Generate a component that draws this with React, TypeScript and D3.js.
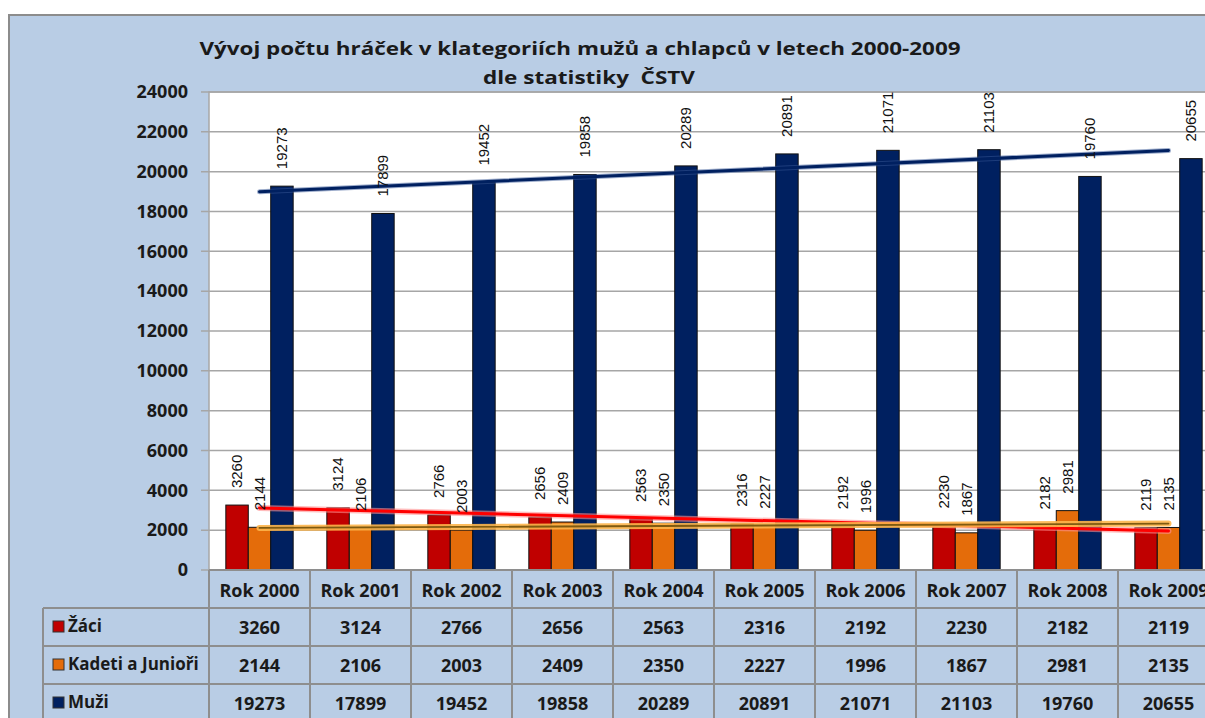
import React from 'react';
import * as d3 from 'd3';

// data
const categories = ['Rok 2000', 'Rok 2001', 'Rok 2002', 'Rok 2003', 'Rok 2004', 'Rok 2005', 'Rok 2006', 'Rok 2007', 'Rok 2008', 'Rok 2009'];
const seriesNames = ['Žáci', 'Kadeti a Junioři', 'Muži'];
const zaci = [3260, 3124, 2766, 2656, 2563, 2316, 2192, 2230, 2182, 2119];
const kadeti = [2144, 2106, 2003, 2409, 2350, 2227, 1996, 1867, 2981, 2135];
const muzi = [19273, 17899, 19452, 19858, 20289, 20891, 21071, 21103, 19760, 20655];
const yTicks = [0, 2000, 4000, 6000, 8000, 10000, 12000, 14000, 16000, 18000, 20000, 22000, 24000];
const titleLines = ['Vývoj počtu hráček v klategoriích mužů a chlapců v letech 2000-2009', 'dle statistiky  ČSTV'];

const seriesValues = [zaci, kadeti, muzi];
const seriesColors = ['#C00000', '#E46C0A', '#002060'];

const W = 1205;
const H = 718;
const plotLeft = 209;
const plotTop = 92;
const plotBottom = 570;
const bandW = 101;
const rowH = 38;
const tableLeft = 43;
const gridColor = '#8E8E8E';
const font = "'Open Sans', 'Liberation Sans', sans-serif";

// simple least squares fit over category index
function linearFit(vals: number[]) {
  const xs = vals.map((_, i) => i);
  const mx = d3.mean(xs) as number;
  const my = d3.mean(vals) as number;
  const sxy = d3.sum(xs, (x, i) => (x - mx) * (vals[i] - my));
  const sxx = d3.sum(xs, x => (x - mx) * (x - mx));
  const slope = sxy / sxx;
  return (i: number) => my + slope * (i - mx);
}

const App = () => {
  const x = d3.scaleBand<string>().domain(categories).range([plotLeft, plotLeft + bandW * categories.length]).padding(0);
  const xs = d3.scaleBand<string>().domain(seriesNames).range([0, x.bandwidth()]).paddingInner(0).paddingOuter(0.75);
  const y = d3.scaleLinear().domain([0, 24000]).range([plotBottom, plotTop]);
  const plotRight = plotLeft + bandW * categories.length;

  const trend = seriesValues.map(vals => {
    const f = linearFit(vals);
    const first = 0;
    const last = vals.length - 1;
    return {
      x1: (x(categories[first]) as number) + x.bandwidth() / 2,
      x2: (x(categories[last]) as number) + x.bandwidth() / 2,
      y1: y(f(first)),
      y2: y(f(last)),
    };
  });

  const rowTop = (r: number) => plotBottom + rowH * (r + 1);

  return (
    <div style={{ position: 'fixed', left: 0, top: 0, width: W, height: H, overflow: 'hidden' }}>
      <svg width={W} height={H} style={{ display: 'block', background: '#fff' }}>
        {/* chart frame, runs past the right and bottom edges */}
        <rect x={9} y={15} width={W + 200} height={H + 200} fill="#B9CDE5" stroke="#8C8C8C" strokeWidth={2} />

        {/* title */}
        <text x={580} y={55} textAnchor="middle" fontFamily={font} fontWeight="bold" fontSize={18} fill="#1a1a1a"
          textLength={761} lengthAdjust="spacingAndGlyphs">{titleLines[0]}</text>
        <text x={589} y={84} textAnchor="middle" fontFamily={font} fontWeight="bold" fontSize={18} fill="#1a1a1a"
          textLength={212} lengthAdjust="spacingAndGlyphs" style={{ whiteSpace: 'pre' }}>{titleLines[1]}</text>

        {/* plot area */}
        <rect x={plotLeft} y={plotTop} width={plotRight - plotLeft} height={plotBottom - plotTop} fill="#fff" stroke="#A6A6A6" strokeWidth={1.5} />

        {yTicks.map(t => (
          <g key={t}>
            <line x1={201} x2={plotRight} y1={y(t)} y2={y(t)} stroke="#A6A6A6" strokeWidth={1.5} />
            <text x={188} y={y(t)} dy="0.35em" textAnchor="end" fontFamily={font} fontWeight="bold" fontSize={18} fill="#1a1a1a">{t}</text>
          </g>
        ))}

        {/* bars */}
        {seriesValues.map((vals, s) => vals.map((v, i) => (
          <rect key={`${s}-${i}`}
            x={(x(categories[i]) as number) + (xs(seriesNames[s]) as number)}
            y={y(v)}
            width={xs.bandwidth()}
            height={plotBottom - y(v)}
            fill={seriesColors[s]} stroke="#111" strokeWidth={1} />
        )))}

        {/* trend lines */}
        <line {...trend[0]} stroke="#FF9090" strokeWidth={6} strokeOpacity={0.6} strokeLinecap="round" />
        <line {...trend[0]} stroke="#FF0000" strokeWidth={3} strokeLinecap="round" />
        <line {...trend[1]} stroke="#FDB54A" strokeWidth={6} strokeOpacity={0.9} strokeLinecap="round" />
        <line {...trend[1]} stroke="#7F5A10" strokeWidth={1.8} strokeLinecap="round" />
        <line {...trend[2]} stroke="#3A5A98" strokeWidth={5} strokeOpacity={0.5} strokeLinecap="round" />
        <line {...trend[2]} stroke="#002060" strokeWidth={3} strokeLinecap="round" />

        {/* data labels */}
        {seriesValues.map((vals, s) => vals.map((v, i) => {
          const cx = (x(categories[i]) as number) + (xs(seriesNames[s]) as number) + xs.bandwidth() / 2;
          const ly = y(v) - 17;
          return (
            <text key={`l${s}-${i}`} transform={`translate(${cx},${ly}) rotate(-90)`} dy="0.35em"
              fontFamily="'Liberation Sans', Arial, sans-serif" fontSize={15} fill="#111">{v}</text>
          );
        }))}

        {/* data table */}
        <g>
          {categories.map(c => (
            <text key={c} x={(x(c) as number) + bandW / 2} y={plotBottom + rowH / 2 + 2} dy="0.35em" textAnchor="middle"
              fontFamily={font} fontWeight="bold" fontSize={18} fill="#1a1a1a">{c}</text>
          ))}
          {seriesValues.map((vals, s) => (
            <g key={`row${s}`}>
              <rect x={53} y={rowTop(s) + rowH / 2 - 6} width={11} height={11} fill={seriesColors[s]} stroke="#333" strokeWidth={1} />
              <text x={68} y={rowTop(s) + rowH / 2 - 1} dy="0.35em" fontFamily={font} fontWeight="bold" fontSize={17} fill="#1a1a1a">{seriesNames[s]}</text>
              {vals.map((v, i) => (
                <text key={i} x={(x(categories[i]) as number) + bandW / 2} y={rowTop(s) + rowH / 2 + 1} dy="0.35em" textAnchor="middle"
                  fontFamily={font} fontWeight="bold" fontSize={18} fill="#1a1a1a">{v}</text>
              ))}
            </g>
          ))}
          {/* table grid */}
          {[0, 1, 2].map(r => (
            <line key={`h${r}`} x1={tableLeft} x2={plotRight} y1={rowTop(r)} y2={rowTop(r)} stroke={gridColor} strokeWidth={2} />
          ))}
          <line x1={tableLeft} x2={tableLeft} y1={rowTop(0)} y2={H + 10} stroke={gridColor} strokeWidth={2} />
          {d3.range(categories.length + 1).map(i => (
            <line key={`v${i}`} x1={plotLeft + i * bandW} x2={plotLeft + i * bandW} y1={plotBottom} y2={H + 10} stroke={gridColor} strokeWidth={2} />
          ))}
          <line x1={plotLeft} x2={plotRight} y1={plotBottom} y2={plotBottom} stroke={gridColor} strokeWidth={2} />
        </g>
      </svg>
    </div>
  );
};

export default App;
